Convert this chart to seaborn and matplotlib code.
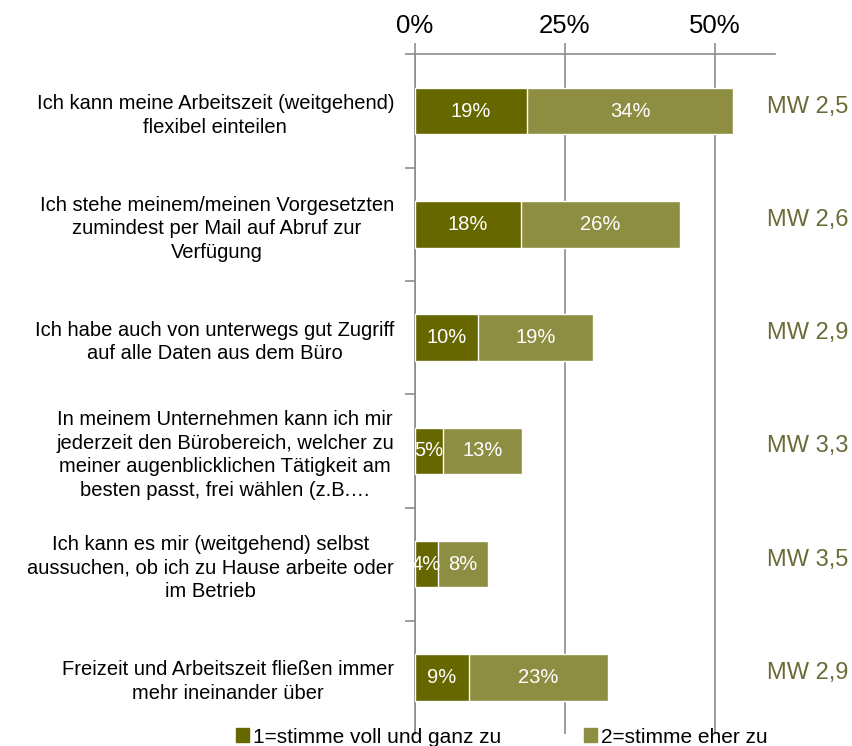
import matplotlib
matplotlib.use("Agg")
import matplotlib.pyplot as plt
import seaborn as sns
import pandas as pd
import numpy as np
from matplotlib.patches import Patch

# Daten
categories = [
    "Ich kann meine Arbeitszeit (weitgehend)\nflexibel einteilen",
    "Ich stehe meinem/meinen Vorgesetzten\nzumindest per Mail auf Abruf zur\nVerfügung",
    "Ich habe auch von unterwegs gut Zugriff\nauf alle Daten aus dem Büro",
    "In meinem Unternehmen kann ich mir\njederzeit den Bürobereich, welcher zu\nmeiner augenblicklichen Tätigkeit am\nbesten passt, frei wählen (z.B.…",
    "Ich kann es mir (weitgehend) selbst\naussuchen, ob ich zu Hause arbeite oder\nim Betrieb",
    "Freizeit und Arbeitszeit fließen immer\nmehr ineinander über",
]
voll = [18.7, 17.7, 10.5, 4.7, 3.8, 9.0]
eher = [34.3, 26.5, 19.2, 13.1, 8.4, 23.2]
voll_labels = ["19%", "18%", "10%", "5%", "4%", "9%"]
eher_labels = ["34%", "26%", "19%", "13%", "8%", "23%"]
mw_labels = ["MW 2,5", "MW 2,6", "MW 2,9", "MW 3,3", "MW 3,5", "MW 2,9"]
legend_labels = ["1=stimme voll und ganz zu", "2=stimme eher zu"]

dark = "#676700"
light = "#8e8e42"
mw_color = "#6b6b38"
axis_gray = "#8c8c8c"

sns.set_style("white")
plt.rcParams["font.family"] = ["Liberation Sans", "DejaVu Sans"]
plt.rcParams["text.color"] = "black"
plt.rcParams["xtick.color"] = "black"
plt.rcParams["ytick.color"] = "black"

df = pd.DataFrame({"cat": categories, "voll": voll, "eher": eher})
df["total"] = df["voll"] + df["eher"]

fig = plt.figure(figsize=(8.52, 7.46), dpi=100)
ax = fig.add_axes([0.487, 0.016, 0.4225, 0.911])

sns.barplot(data=df, x="total", y="cat", color=light, width=0.41,
            saturation=1, ax=ax, zorder=3)
sns.barplot(data=df, x="voll", y="cat", color=dark, width=0.41,
            saturation=1, ax=ax, zorder=3)

ax.set_xlim(0, 60)
ax.set_ylim(5.5, -0.5)
ax.set_xlabel("")
ax.set_ylabel("")

# Werte in den Balken + Mittelwerte rechts
for i in range(len(categories)):
    ax.text(voll[i] / 2, i, voll_labels[i], color="white", ha="center",
            va="center", fontsize=14.5, zorder=4)
    ax.text(voll[i] + eher[i] / 2, i, eher_labels[i], color="white",
            ha="center", va="center", fontsize=14.5, zorder=4)
    ax.text(72.2, i - 0.04, mw_labels[i], color=mw_color, ha="right",
            va="center", fontsize=17, clip_on=False)

# x-Achse oben
ax.xaxis.tick_top()
ax.set_xticks([0, 25, 50])
ax.set_xticklabels(["0%", "25%", "50%"], fontsize=18.5)
ax.tick_params(axis="x", direction="out", length=8, width=1.2,
               color=axis_gray, pad=4, top=True)
ax.grid(axis="x", color=axis_gray, linewidth=1.2, zorder=0)
ax.grid(axis="y", visible=False)

# y-Achse
ax.set_yticks(range(len(categories)))
ax.set_yticklabels(categories, fontsize=14.5, linespacing=1.3)
for lab in ax.get_yticklabels():
    lab.set_multialignment("center")
ax.tick_params(axis="y", which="major", length=0, pad=15)
ax.set_yticks(np.arange(-0.5, 5.0, 1.0), minor=True)
ax.tick_params(axis="y", which="minor", left=True, length=7, width=1.2,
               color=axis_gray, direction="out")

for side in ["right", "bottom"]:
    ax.spines[side].set_visible(False)
for side in ["top", "left"]:
    ax.spines[side].set_color(axis_gray)
    ax.spines[side].set_linewidth(1.2)

handles = [Patch(color=dark), Patch(color=light)]
fig.legend(handles, legend_labels, loc="center", bbox_to_anchor=(0.589, 0.012),
           ncol=2, frameon=False, fontsize=15, handlelength=0.62,
           handleheight=0.62, handletextpad=0.19, columnspacing=4.0)

fig.savefig("out.png", dpi=100)
